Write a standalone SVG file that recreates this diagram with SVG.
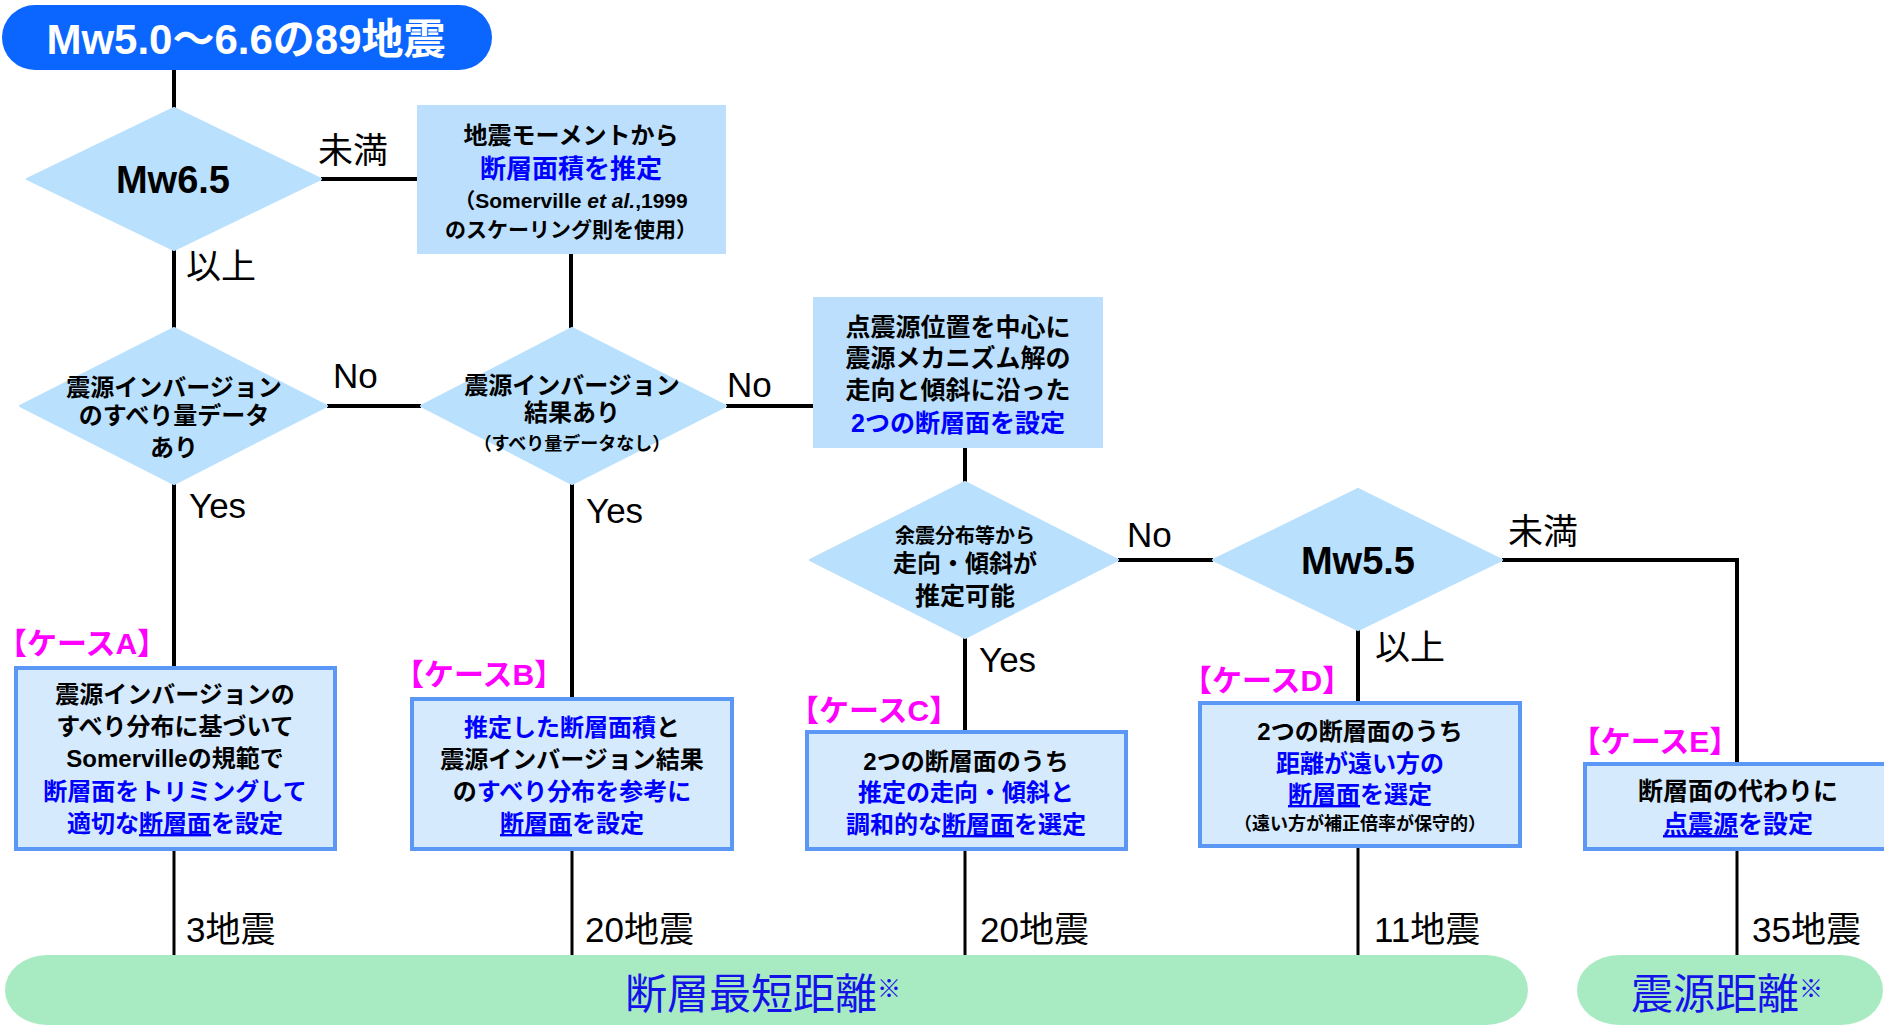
<svg xmlns="http://www.w3.org/2000/svg" width="1884" height="1031" viewBox="0 0 1884 1031">
<style>
text { font-family: 'Liberation Sans', 'Noto Sans CJK JP', sans-serif; fill: #000; }
.c { text-anchor: middle; }
.b { font-weight: 700; }
.blue { fill: #0000FF; }
.mag { fill: #FF00FF; font-weight: 700; font-size: 30px; text-anchor: middle; }
.lbl { font-size: 35px; }
.dia { fill: #B9E0FD; stroke: #B9E0FD; stroke-width: 2; stroke-linejoin: round; }
.box { fill: #BBDFFD; }
.case { fill: #D5EAFD; stroke: #5B97F5; stroke-width: 4; }
.pill { fill: #A8EBC3; }
.conn { stroke: #000; stroke-width: 4; fill: none; }
.thin { stroke-width: 3; }
.ul { text-decoration: underline; }
.big { font-size: 42px; fill: #1414E8; }
</style>

<g id="connectors">
  <path class="conn" d="M174 70 V108"/>
  <path class="conn" d="M321 179 H417"/>
  <path class="conn" d="M174 250 V328"/>
  <path class="conn" d="M571 254 V328"/>
  <path class="conn" d="M327 406 H421"/>
  <path class="conn" d="M726 406 H813"/>
  <path class="conn" d="M965 448 V482"/>
  <path class="conn" d="M174 484 V668"/>
  <path class="conn" d="M572 484 V699"/>
  <path class="conn" d="M965 638 V732"/>
  <path class="conn" d="M1118 560 H1213"/>
  <path class="conn" d="M1358 630 V703"/>
  <path class="conn" d="M1502 560 H1737 V764"/>
  <path class="conn thin" d="M174 849 V955"/>
  <path class="conn thin" d="M572 849 V955"/>
  <path class="conn thin" d="M965 849 V955"/>
  <path class="conn thin" d="M1358 846 V955"/>
  <path class="conn thin" d="M1737 849 V955"/>
</g>

<g id="labels">
  <text class="lbl" x="318" y="163">未満</text>
  <text class="lbl" x="186" y="279">以上</text>
  <text class="lbl" x="333" y="388">No</text>
  <text class="lbl" x="727" y="397">No</text>
  <text class="lbl" x="189" y="518">Yes</text>
  <text class="lbl" x="586" y="523">Yes</text>
  <text class="lbl" x="1127" y="547">No</text>
  <text class="lbl" x="1508" y="544">未満</text>
  <text class="lbl" x="1375" y="660">以上</text>
  <text class="lbl" x="979" y="672">Yes</text>
  <text class="lbl" x="186" y="942">3地震</text>
  <text class="lbl" x="585" y="942">20地震</text>
  <text class="lbl" x="980" y="942">20地震</text>
  <text class="lbl" x="1374" y="942">11地震</text>
  <text class="lbl" x="1752" y="942">35地震</text>
</g>

<g id="start">
  <rect x="2" y="5" width="490" height="65" rx="33" fill="#0A66FF"/>
  <text class="c b" x="246" y="54" font-size="42" style="fill:#fff">Mw5.0～6.6の89地震</text>
</g>

<g id="d-mw65">
  <polygon class="dia" points="27,179 174,108 321,179 174,250"/>
  <text class="c b" x="173" y="193" font-size="38">Mw6.5</text>
</g>

<g id="box-moment">
  <rect class="box" x="417" y="105" width="309" height="149"/>
  <text class="c b" x="571" y="144" font-size="24">地震モーメントから</text>
  <text class="c b blue" x="571" y="178" font-size="26">断層面積を推定</text>
  <text class="c b" x="571" y="208" font-size="21">（Somerville <tspan font-style="italic">et al.</tspan>,1999</text>
  <text class="c b" x="571" y="237" font-size="21">のスケーリング則を使用）</text>
</g>

<g id="d-slip">
  <polygon class="dia" points="20,406 174,328 327,406 174,484"/>
  <text class="c b" x="174" y="396" font-size="24">震源インバージョン</text>
  <text class="c b" x="174" y="424" font-size="24">のすべり量データ</text>
  <text class="c b" x="174" y="456" font-size="24">あり</text>
</g>

<g id="d-inv">
  <polygon class="dia" points="421,406 572,328 726,406 572,484"/>
  <text class="c b" x="572" y="394" font-size="24">震源インバージョン</text>
  <text class="c b" x="572" y="421" font-size="24">結果あり</text>
  <text class="c b" x="572" y="450" font-size="18">（すべり量データなし）</text>
</g>

<g id="box-point">
  <rect class="box" x="813" y="297" width="290" height="151"/>
  <text class="c b" x="958" y="336" font-size="25">点震源位置を中心に</text>
  <text class="c b" x="958" y="367" font-size="25">震源メカニズム解の</text>
  <text class="c b" x="958" y="399" font-size="25">走向と傾斜に沿った</text>
  <text class="c b blue" x="958" y="432" font-size="25">2つの断層面を設定</text>
</g>

<g id="d-after">
  <polygon class="dia" points="810,560 965,482 1118,560 965,638"/>
  <text class="c b" x="965" y="543" font-size="20">余震分布等から</text>
  <text class="c b" x="965" y="572" font-size="24">走向・傾斜が</text>
  <text class="c b" x="965" y="605" font-size="25">推定可能</text>
</g>

<g id="d-mw55">
  <polygon class="dia" points="1213,560 1358,489 1502,560 1358,630"/>
  <text class="c b" x="1358" y="574" font-size="38">Mw5.5</text>
</g>

<g id="case-a">
  <text class="mag" x="82" y="654">【ケースA】</text>
  <rect class="case" x="16" y="668" width="319" height="181"/>
  <text class="c b" x="175" y="703" font-size="24">震源インバージョンの</text>
  <text class="c b" x="175" y="735" font-size="24">すべり分布に基づいて</text>
  <text class="c b" x="175" y="767" font-size="24">Somervilleの規範で</text>
  <text class="c b blue" x="175" y="800" font-size="24">断層面をトリミングして</text>
  <text class="c b blue" x="175" y="832" font-size="24">適切な<tspan class="ul">断層面</tspan>を設定</text>
</g>

<g id="case-b">
  <text class="mag" x="479" y="685">【ケースB】</text>
  <rect class="case" x="412" y="699" width="320" height="150"/>
  <text class="c b" x="572" y="736" font-size="24"><tspan class="blue">推定した断層面積</tspan>と</text>
  <text class="c b" x="572" y="768" font-size="24">震源インバージョン結果</text>
  <text class="c b" x="572" y="800" font-size="24">の<tspan class="blue">すべり分布を参考に</tspan></text>
  <text class="c b blue" x="572" y="832" font-size="24"><tspan class="ul">断層面</tspan>を設定</text>
</g>

<g id="case-c">
  <text class="mag" x="874" y="721">【ケースC】</text>
  <rect class="case" x="807" y="732" width="319" height="117"/>
  <text class="c b" x="966" y="770" font-size="24">2つの断層面のうち</text>
  <text class="c b blue" x="966" y="801" font-size="24">推定の走向・傾斜と</text>
  <text class="c b blue" x="966" y="833" font-size="24">調和的な<tspan class="ul">断層面</tspan>を選定</text>
</g>

<g id="case-d">
  <text class="mag" x="1267" y="691">【ケースD】</text>
  <rect class="case" x="1200" y="703" width="320" height="143"/>
  <text class="c b" x="1360" y="740" font-size="24">2つの断層面のうち</text>
  <text class="c b blue" x="1360" y="772" font-size="24">距離が遠い方の</text>
  <text class="c b blue" x="1360" y="803" font-size="24"><tspan class="ul">断層面</tspan>を選定</text>
  <text class="c b" x="1360" y="830" font-size="18">（遠い方が補正倍率が保守的）</text>
</g>

<g id="case-e">
  <text class="mag" x="1655" y="752">【ケースE】</text>
  <rect class="case" x="1585" y="764" width="320" height="85"/>
  <text class="c b" x="1738" y="800" font-size="25">断層面の代わりに</text>
  <text class="c b blue" x="1738" y="833" font-size="25"><tspan class="ul">点震源</tspan>を設定</text>
</g>

<g id="result-fault">
  <rect class="pill" x="5" y="955" width="1523" height="70" rx="42" ry="35"/>
  <text class="big" x="625" y="1009">断層最短距離<tspan font-size="24" dy="-12">※</tspan></text>
</g>

<g id="result-hypo">
  <rect class="pill" x="1577" y="955" width="306" height="70" rx="42" ry="35"/>
  <text class="big" x="1631" y="1009">震源距離<tspan font-size="24" dy="-12">※</tspan></text>
</g>
</svg>
